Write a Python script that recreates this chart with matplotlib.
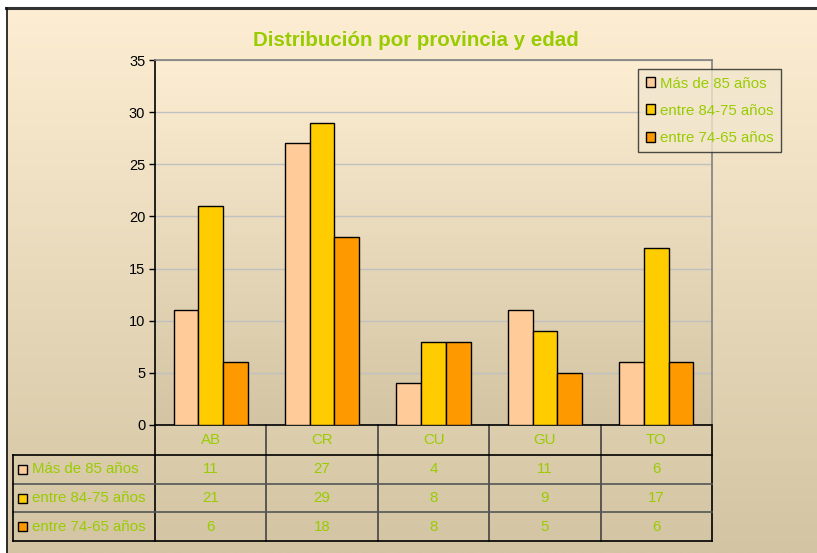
import numpy as np
import matplotlib
matplotlib.use("Agg")
import matplotlib.pyplot as plt
import matplotlib.transforms as mtransforms
from matplotlib.patches import Rectangle
from matplotlib.lines import Line2D

plt.rcParams["font.family"] = ["Liberation Sans", "DejaVu Sans"]

# data
provincias = ["AB", "CR", "CU", "GU", "TO"]
series_names = ["Más de 85 años", "entre 84-75 años", "entre 74-65 años"]
mas_85 = [11, 27, 4, 11, 6]
entre_84_75 = [21, 29, 8, 9, 17]
entre_74_65 = [6, 18, 8, 5, 6]
series = [mas_85, entre_84_75, entre_74_65]
colors = ["#FFCC99", "#FFCC00", "#FF9900"]
yticks = [0, 5, 10, 15, 20, 25, 30, 35]

green = "#99CC00"
fs = 10.8
W, H = 817, 553
fig = plt.figure(figsize=(W / 100, H / 100), dpi=100)
fig.patch.set_facecolor("white")

# chart background gradient with dark frame on top/left
bg = fig.add_axes([6 / W, 0, 1 - 6 / W, 1 - 9 / H], zorder=-5)
grad = np.linspace(0, 1, 256)[:, None, None]
top_c = np.array([253, 238, 211]) / 255
bot_c = np.array([211, 196, 163]) / 255
img = top_c + (bot_c - top_c) * grad
bg.imshow(img, aspect="auto", extent=[0, 1, 0, 1], origin="upper")
bg.set_xlim(0, 1)
bg.set_ylim(0, 1)
bg.axis("off")
fig.add_artist(Line2D([6 / W, 1], [1 - 8 / H, 1 - 8 / H], color="#333333", lw=2.2))
fig.add_artist(Line2D([6.5 / W, 6.5 / W], [0, 1 - 8 / H], color="#111111", lw=1.2))

ax = fig.add_axes([155 / W, 1 - 425 / H, 557 / W, 365 / H])
ax.set_facecolor("none")
ax.imshow(img, aspect="auto", extent=[0, 1, 0, 1], origin="upper",
          transform=ax.transAxes, zorder=0)

x = np.arange(len(provincias))
bw = 0.222
for i, (vals, c, name) in enumerate(zip(series, colors, series_names)):
    ax.bar(x + (i - 1) * bw, vals, bw, color=c, edgecolor="black",
           linewidth=1, label=name, zorder=3)

ax.set_xlim(-0.5, len(provincias) - 0.5)
ax.set_ylim(0, 35)
ax.set_yticks(yticks)
ax.set_xticks([])
ax.yaxis.grid(True, color="#C0C0C0", linewidth=1, zorder=1)
ax.set_axisbelow(True)
ax.tick_params(axis="y", length=4, width=1, labelsize=10.5, pad=3)
ax.spines["left"].set_color("black")
ax.spines["bottom"].set_color("black")
ax.spines["top"].set_color("#808080")
ax.spines["right"].set_color("#808080")
for s in ax.spines.values():
    s.set_linewidth(1.2)

fig.text(416 / W, 1 - 40 / H, "Distribución por provincia y edad",
         ha="center", va="center", fontsize=14.8, fontweight="bold", color=green)

leg = ax.legend(loc="upper right", bbox_to_anchor=(781 / W, 1 - 69 / H),
                bbox_transform=fig.transFigure, fontsize=fs, frameon=True,
                fancybox=False, handlelength=0.65, handleheight=0.65,
                handletextpad=0.3, labelspacing=0.88, borderpad=0.5,
                borderaxespad=0)
leg.get_frame().set_edgecolor("#222222")
leg.get_frame().set_facecolor("#F1E7CE")
leg.get_frame().set_linewidth(1)
for t in leg.get_texts():
    t.set_color(green)

# data table below the axes
tr = mtransforms.blended_transform_factory(ax.transData, ax.transAxes)
ppx = 1 / 365  # axes fraction per pixel
hdr = 30 * ppx
rh = 28.7 * ppx
x0_lbl = -0.5 - 142 / 111.4
n = len(provincias)
y_hdr_bot = -hdr
y_rows = [y_hdr_bot - k * rh for k in range(len(series) + 1)]

def hline(xa, xb, y, col="black"):
    ax.add_line(Line2D([xa, xb], [y, y], transform=tr, color=col, lw=1.2, clip_on=False))

def vline(xv, ya, yb, col="black"):
    ax.add_line(Line2D([xv, xv], [ya, yb], transform=tr, color=col, lw=1.2, clip_on=False))

# header cells
for k in range(n + 1):
    vline(k - 0.5, 0, y_rows[-1], "black" if k in (0, n) else "#444444")
for k, p in enumerate(provincias):
    ax.text(k, -hdr / 2, p, transform=tr, ha="center", va="center",
            fontsize=fs, color=green, clip_on=False)
hline(x0_lbl, n - 0.5, y_rows[0])
for j in range(1, len(series)):
    hline(x0_lbl, n - 0.5, y_rows[j], "#555555")
hline(x0_lbl, n - 0.5, y_rows[-1])
vline(x0_lbl, y_rows[0], y_rows[-1])

for j, (vals, c, name) in enumerate(zip(series, colors, series_names)):
    yc = (y_rows[j] + y_rows[j + 1]) / 2
    ax.add_patch(Rectangle((x0_lbl + 5 / 111.4, yc - 4.5 * ppx), 9 / 111.4, 9 * ppx,
                           transform=tr, facecolor=c, edgecolor="black",
                           lw=1, clip_on=False))
    ax.text(x0_lbl + 19 / 111.4, yc, name, transform=tr, ha="left", va="center",
            fontsize=fs, color=green, clip_on=False)
    for k, v in enumerate(vals):
        ax.text(k, yc, str(v), transform=tr, ha="center", va="center",
                fontsize=fs, color=green, clip_on=False)

fig.savefig("out.png", dpi=100)
